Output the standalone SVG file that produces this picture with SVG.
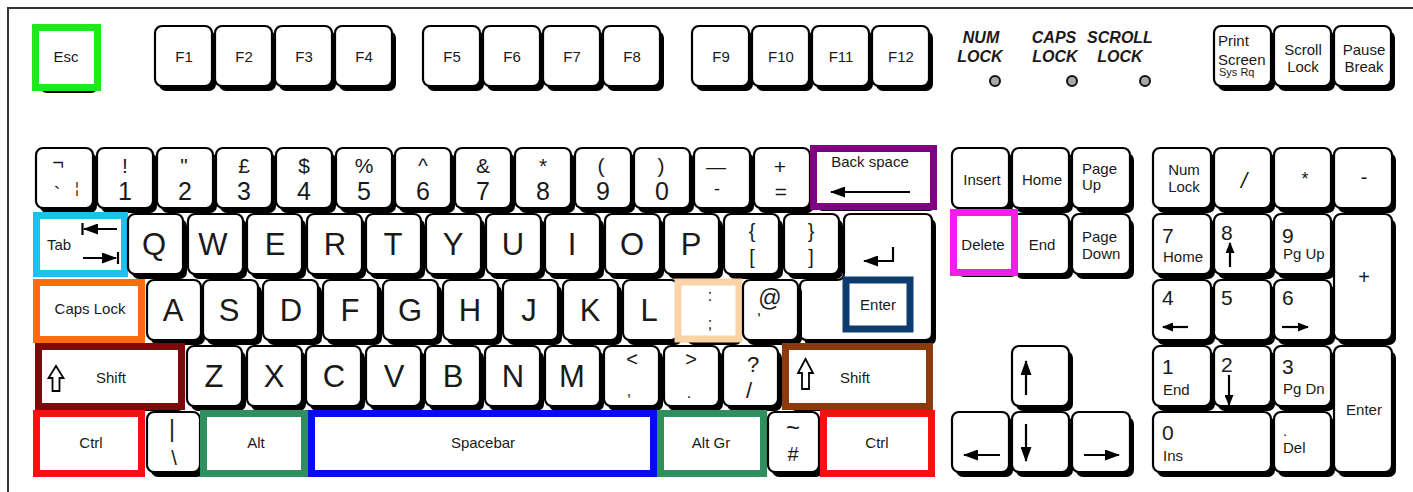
<svg xmlns="http://www.w3.org/2000/svg" width="1413" height="492" viewBox="0 0 1413 492">
<style>
.sh{fill:#000}
.kb{fill:#fff;stroke:#000;stroke-width:2.2}
.hl{fill:#fff;stroke-width:7}
text{font-family:"Liberation Sans",Arial,sans-serif;fill:#1a1a1a}
.c{text-anchor:middle}
.s{font-size:15px}
.xs{font-size:11px}
.dg{font-size:25px}
.sy{font-size:21px}
.lt{font-size:31px}
.np{font-size:21px}
.led{font-size:16px;font-weight:bold;font-style:italic;text-anchor:middle}
.ar{stroke:#000;stroke-width:2.2;fill:none}
.ld{fill:#a8a8a8;stroke:#111;stroke-width:2}
.sf{fill:#fff;stroke:#000;stroke-width:1.8}
</style>
<defs>
<marker id="ah" markerUnits="userSpaceOnUse" markerWidth="15" markerHeight="11" refX="14" refY="5.5" orient="auto"><path d="M0,0 L15,5.5 L0,11 z" fill="#000"/></marker>
<marker id="am" markerUnits="userSpaceOnUse" markerWidth="11" markerHeight="9" refX="10" refY="4.5" orient="auto"><path d="M0,0 L11,4.5 L0,9 z" fill="#000"/></marker>
</defs>
<g id="frame"><path d="M8,492 V8 H1413" fill="none" stroke="#333" stroke-width="2"/></g>

<!-- Function row -->
<g id="key-esc"><rect class="sh" x="40" y="33" width="58" height="60" rx="7"/><rect class="hl" x="35.5" y="27.5" width="62" height="60" stroke="#1ee81e"/><text class="c s" x="66" y="62">Esc</text></g>
<g id="key-f1"><rect class="sh" x="159" y="31" width="57" height="60" rx="7"/><rect class="kb" x="155" y="26" width="57" height="60" rx="7"/><text class="c s" x="184" y="62">F1</text></g>
<g id="key-f2"><rect class="sh" x="219" y="31" width="57" height="60" rx="7"/><rect class="kb" x="215" y="26" width="57" height="60" rx="7"/><text class="c s" x="244" y="62">F2</text></g>
<g id="key-f3"><rect class="sh" x="279" y="31" width="57" height="60" rx="7"/><rect class="kb" x="275" y="26" width="57" height="60" rx="7"/><text class="c s" x="304" y="62">F3</text></g>
<g id="key-f4"><rect class="sh" x="339" y="31" width="57" height="60" rx="7"/><rect class="kb" x="335" y="26" width="57" height="60" rx="7"/><text class="c s" x="364" y="62">F4</text></g>
<g id="key-f5"><rect class="sh" x="427" y="31" width="57" height="60" rx="7"/><rect class="kb" x="423" y="26" width="57" height="60" rx="7"/><text class="c s" x="452" y="62">F5</text></g>
<g id="key-f6"><rect class="sh" x="487" y="31" width="57" height="60" rx="7"/><rect class="kb" x="483" y="26" width="57" height="60" rx="7"/><text class="c s" x="512" y="62">F6</text></g>
<g id="key-f7"><rect class="sh" x="547" y="31" width="57" height="60" rx="7"/><rect class="kb" x="543" y="26" width="57" height="60" rx="7"/><text class="c s" x="572" y="62">F7</text></g>
<g id="key-f8"><rect class="sh" x="607" y="31" width="57" height="60" rx="7"/><rect class="kb" x="603" y="26" width="57" height="60" rx="7"/><text class="c s" x="632" y="62">F8</text></g>
<g id="key-f9"><rect class="sh" x="696" y="31" width="57" height="60" rx="7"/><rect class="kb" x="692" y="26" width="57" height="60" rx="7"/><text class="c s" x="721" y="62">F9</text></g>
<g id="key-f10"><rect class="sh" x="756" y="31" width="57" height="60" rx="7"/><rect class="kb" x="752" y="26" width="57" height="60" rx="7"/><text class="c s" x="781" y="62">F10</text></g>
<g id="key-f11"><rect class="sh" x="816" y="31" width="57" height="60" rx="7"/><rect class="kb" x="812" y="26" width="57" height="60" rx="7"/><text class="c s" x="841" y="62">F11</text></g>
<g id="key-f12"><rect class="sh" x="876" y="31" width="57" height="60" rx="7"/><rect class="kb" x="872" y="26" width="57" height="60" rx="7"/><text class="c s" x="901" y="62">F12</text></g>

<!-- Indicator lights -->
<g id="led-num"><text class="led" x="981" y="43">NUM</text><text class="led" x="980" y="62">LOCK</text><circle class="ld" cx="995" cy="81" r="5"/></g>
<g id="led-caps"><text class="led" x="1054" y="43">CAPS</text><text class="led" x="1055" y="62">LOCK</text><circle class="ld" cx="1072" cy="81" r="5"/></g>
<g id="led-scroll"><text class="led" x="1120" y="43">SCROLL</text><text class="led" x="1120" y="62">LOCK</text><circle class="ld" cx="1145" cy="81" r="5"/></g>

<g id="key-prtsc"><rect class="sh" x="1218" y="31" width="57" height="60" rx="7"/><rect class="kb" x="1214" y="26" width="57" height="60" rx="7"/><text class="s" x="1218" y="46">Print</text><text class="s" x="1218" y="65">Screen</text><text class="xs" x="1219" y="76">Sys Rq</text></g>
<g id="key-scroll"><rect class="sh" x="1278" y="31" width="57" height="60" rx="7"/><rect class="kb" x="1274" y="26" width="57" height="60" rx="7"/><text class="c s" x="1303" y="55">Scroll</text><text class="c s" x="1303" y="72">Lock</text></g>
<g id="key-pause"><rect class="sh" x="1338" y="31" width="57" height="60" rx="7"/><rect class="kb" x="1334" y="26" width="57" height="60" rx="7"/><text class="c s" x="1364" y="55">Pause</text><text class="c s" x="1364" y="72">Break</text></g>

<!-- Number row -->
<g id="key-backtick"><rect class="sh" x="40" y="153" width="57" height="60" rx="7"/><rect class="kb" x="36" y="148" width="57" height="60" rx="7"/><text class="c" style="font-size:20px" x="58" y="169">¬</text><text class="c" style="font-size:20px" x="57" y="201">`</text><text class="c" style="font-size:15px" x="77" y="193">¦</text></g>
<g id="key-1"><rect class="sh" x="101" y="153" width="56" height="60" rx="7"/><rect class="kb" x="97" y="148" width="56" height="60" rx="7"/><text class="c sy" x="125" y="173">!</text><text class="c dg" x="125" y="200">1</text></g>
<g id="key-2"><rect class="sh" x="161" y="153" width="56" height="60" rx="7"/><rect class="kb" x="157" y="148" width="56" height="60" rx="7"/><text class="c sy" x="184" y="173">"</text><text class="c dg" x="185" y="200">2</text></g>
<g id="key-3"><rect class="sh" x="220" y="153" width="56" height="60" rx="7"/><rect class="kb" x="216" y="148" width="56" height="60" rx="7"/><text class="c sy" x="244" y="173">£</text><text class="c dg" x="244" y="200">3</text></g>
<g id="key-4"><rect class="sh" x="280" y="153" width="56" height="60" rx="7"/><rect class="kb" x="276" y="148" width="56" height="60" rx="7"/><text class="c sy" x="304" y="173">$</text><text class="c dg" x="304" y="200">4</text></g>
<g id="key-5"><rect class="sh" x="340" y="153" width="56" height="60" rx="7"/><rect class="kb" x="336" y="148" width="56" height="60" rx="7"/><text class="c sy" x="364" y="173">%</text><text class="c dg" x="364" y="200">5</text></g>
<g id="key-6"><rect class="sh" x="399" y="153" width="56" height="60" rx="7"/><rect class="kb" x="395" y="148" width="56" height="60" rx="7"/><text class="c sy" x="423" y="173">^</text><text class="c dg" x="423" y="200">6</text></g>
<g id="key-7"><rect class="sh" x="459" y="153" width="56" height="60" rx="7"/><rect class="kb" x="455" y="148" width="56" height="60" rx="7"/><text class="c sy" x="483" y="173">&amp;</text><text class="c dg" x="483" y="200">7</text></g>
<g id="key-8"><rect class="sh" x="519" y="153" width="56" height="60" rx="7"/><rect class="kb" x="515" y="148" width="56" height="60" rx="7"/><text class="c sy" x="543" y="173">*</text><text class="c dg" x="543" y="200">8</text></g>
<g id="key-9"><rect class="sh" x="579" y="153" width="56" height="60" rx="7"/><rect class="kb" x="575" y="148" width="56" height="60" rx="7"/><text class="c sy" x="601" y="173">(</text><text class="c dg" x="603" y="200">9</text></g>
<g id="key-0"><rect class="sh" x="638" y="153" width="56" height="60" rx="7"/><rect class="kb" x="634" y="148" width="56" height="60" rx="7"/><text class="c sy" x="661" y="173">)</text><text class="c dg" x="662" y="200">0</text></g>
<g id="key-minus"><rect class="sh" x="698" y="153" width="56" height="60" rx="7"/><rect class="kb" x="694" y="148" width="56" height="60" rx="7"/><text class="c" style="font-size:20px" x="716" y="174">—</text><text class="c" style="font-size:18px" x="717" y="195">-</text></g>
<g id="key-equals"><rect class="sh" x="758" y="153" width="56" height="60" rx="7"/><rect class="kb" x="754" y="148" width="56" height="60" rx="7"/><text class="c sy" x="780" y="174">+</text><text class="c sy" x="781" y="199">=</text></g>
<g id="key-backspace"><rect class="sh" x="816" y="153" width="120" height="58" rx="7"/><rect class="hl" x="813.5" y="148.5" width="120" height="58" stroke="#800080"/><text class="c s" x="870" y="167">Back space</text><line class="ar" x1="910" y1="192" x2="831" y2="192" marker-end="url(#ah)"/></g>

<!-- QWERTY row -->
<g id="key-tab"><rect class="sh" x="40" y="219" width="88" height="58" rx="7"/><rect class="hl" x="36.5" y="215.5" width="88" height="58" stroke="#20bff0"/><text class="s" x="47" y="250">Tab</text><line class="ar" x1="117" y1="229" x2="84" y2="229" marker-end="url(#ah)"/><line class="ar" x1="82.5" y1="223" x2="82.5" y2="235"/><line class="ar" x1="83" y1="258" x2="116" y2="258" marker-end="url(#ah)"/><line class="ar" x1="118" y1="252" x2="118" y2="264"/></g>
<g id="key-q"><rect class="sh" x="132" y="219" width="55" height="60" rx="7"/><rect class="kb" x="128" y="214" width="55" height="60" rx="7"/><text class="c lt" x="154" y="255">Q</text></g>
<g id="key-w"><rect class="sh" x="192" y="219" width="55" height="60" rx="7"/><rect class="kb" x="188" y="214" width="55" height="60" rx="7"/><text class="c lt" x="213" y="255">W</text></g>
<g id="key-e"><rect class="sh" x="251" y="219" width="55" height="60" rx="7"/><rect class="kb" x="247" y="214" width="55" height="60" rx="7"/><text class="c lt" x="275" y="255">E</text></g>
<g id="key-r"><rect class="sh" x="311" y="219" width="55" height="60" rx="7"/><rect class="kb" x="307" y="214" width="55" height="60" rx="7"/><text class="c lt" x="335" y="255">R</text></g>
<g id="key-t"><rect class="sh" x="370" y="219" width="55" height="60" rx="7"/><rect class="kb" x="366" y="214" width="55" height="60" rx="7"/><text class="c lt" x="393" y="255">T</text></g>
<g id="key-y"><rect class="sh" x="430" y="219" width="55" height="60" rx="7"/><rect class="kb" x="426" y="214" width="55" height="60" rx="7"/><text class="c lt" x="453" y="255">Y</text></g>
<g id="key-u"><rect class="sh" x="490" y="219" width="55" height="60" rx="7"/><rect class="kb" x="486" y="214" width="55" height="60" rx="7"/><text class="c lt" x="513" y="255">U</text></g>
<g id="key-i"><rect class="sh" x="549" y="219" width="55" height="60" rx="7"/><rect class="kb" x="545" y="214" width="55" height="60" rx="7"/><text class="c lt" x="572" y="255">I</text></g>
<g id="key-o"><rect class="sh" x="609" y="219" width="55" height="60" rx="7"/><rect class="kb" x="605" y="214" width="55" height="60" rx="7"/><text class="c lt" x="632" y="255">O</text></g>
<g id="key-p"><rect class="sh" x="668" y="219" width="55" height="60" rx="7"/><rect class="kb" x="664" y="214" width="55" height="60" rx="7"/><text class="c lt" x="691" y="255">P</text></g>
<g id="key-lbracket"><rect class="sh" x="728" y="219" width="55" height="60" rx="7"/><rect class="kb" x="724" y="214" width="55" height="60" rx="7"/><text class="c" style="font-size:20px" x="752" y="238">{</text><text class="c" style="font-size:20px" x="752" y="264">[</text></g>
<g id="key-rbracket"><rect class="sh" x="788" y="219" width="55" height="60" rx="7"/><rect class="kb" x="784" y="214" width="55" height="60" rx="7"/><text class="c" style="font-size:20px" x="811" y="238">}</text><text class="c" style="font-size:20px" x="811" y="264">]</text></g>
<g id="key-enter"><path class="sh" d="M855,219 H929 Q936,219 936,226 V338 Q936,345 929,345 H811 Q804,345 804,338 V292 Q804,285 811,285 H841 Q848,285 848,278 V226 Q848,219 855,219 Z"/><path class="kb" d="M851,214 H925 Q932,214 932,221 V333 Q932,340 925,340 H807 Q800,340 800,333 V287 Q800,280 807,280 H837 Q844,280 844,273 V221 Q844,214 851,214 Z"/><path class="ar" d="M893,247 V261 H864" marker-end="url(#ah)"/><rect class="hl" x="846" y="280" width="64" height="49" stroke="#0f3c6e" stroke-width="6"/><text class="c s" x="878" y="310">Enter</text></g>

<!-- Home row -->
<g id="key-caps"><rect class="sh" x="40" y="286" width="105" height="57" rx="7"/><rect class="hl" x="36.5" y="282.5" width="105" height="57" stroke="#fb6b10"/><text class="c s" x="90" y="314">Caps Lock</text></g>
<g id="key-a"><rect class="sh" x="151" y="285" width="54" height="60" rx="7"/><rect class="kb" x="147" y="280" width="54" height="60" rx="7"/><text class="c lt" x="173" y="321">A</text></g>
<g id="key-s"><rect class="sh" x="207" y="285" width="55" height="60" rx="7"/><rect class="kb" x="203" y="280" width="55" height="60" rx="7"/><text class="c lt" x="229" y="321">S</text></g>
<g id="key-d"><rect class="sh" x="267" y="285" width="55" height="60" rx="7"/><rect class="kb" x="263" y="280" width="55" height="60" rx="7"/><text class="c lt" x="291" y="321">D</text></g>
<g id="key-f"><rect class="sh" x="327" y="285" width="55" height="60" rx="7"/><rect class="kb" x="323" y="280" width="55" height="60" rx="7"/><text class="c lt" x="350" y="321">F</text></g>
<g id="key-g"><rect class="sh" x="387" y="285" width="55" height="60" rx="7"/><rect class="kb" x="383" y="280" width="55" height="60" rx="7"/><text class="c lt" x="410" y="321">G</text></g>
<g id="key-h"><rect class="sh" x="447" y="285" width="55" height="60" rx="7"/><rect class="kb" x="443" y="280" width="55" height="60" rx="7"/><text class="c lt" x="470" y="321">H</text></g>
<g id="key-j"><rect class="sh" x="507" y="285" width="55" height="60" rx="7"/><rect class="kb" x="503" y="280" width="55" height="60" rx="7"/><text class="c lt" x="529" y="321">J</text></g>
<g id="key-k"><rect class="sh" x="567" y="285" width="55" height="60" rx="7"/><rect class="kb" x="563" y="280" width="55" height="60" rx="7"/><text class="c lt" x="590" y="321">K</text></g>
<g id="key-l"><rect class="sh" x="627" y="285" width="55" height="60" rx="7"/><rect class="kb" x="623" y="280" width="55" height="60" rx="7"/><text class="c lt" x="649" y="321">L</text></g>
<g id="key-semicolon"><rect class="sh" x="687" y="285" width="55" height="60" rx="7"/><rect class="hl" x="678" y="282" width="61" height="57" stroke="#fbd3a6" stroke-width="6"/><text class="c" style="font-size:16px" x="710" y="301">:</text><text class="c" style="font-size:16px" x="710" y="329">;</text></g>
<g id="key-at"><rect class="sh" x="747" y="285" width="55" height="60" rx="7"/><rect class="kb" x="743" y="280" width="55" height="60" rx="7"/><text class="c" style="font-size:23px" x="770" y="306">@</text><text class="c" style="font-size:16px" x="759" y="325">'</text></g>

<!-- Bottom letter row -->
<g id="key-lshift"><rect class="sh" x="42" y="351" width="143" height="60" rx="7"/><rect class="hl" x="38.5" y="346.5" width="143" height="60" stroke="#7d0a0a" stroke-width="7.5"/><path class="sf" d="M56,366 L63.5,378 H59.5 V391 H52.5 V378 H48.5 Z"/><text class="c s" x="111" y="383">Shift</text></g>
<g id="key-z"><rect class="sh" x="191" y="351" width="55" height="60" rx="7"/><rect class="kb" x="187" y="346" width="55" height="60" rx="7"/><text class="c lt" x="214" y="387">Z</text></g>
<g id="key-x"><rect class="sh" x="251" y="351" width="55" height="60" rx="7"/><rect class="kb" x="247" y="346" width="55" height="60" rx="7"/><text class="c lt" x="274" y="387">X</text></g>
<g id="key-c"><rect class="sh" x="310" y="351" width="55" height="60" rx="7"/><rect class="kb" x="306" y="346" width="55" height="60" rx="7"/><text class="c lt" x="334" y="387">C</text></g>
<g id="key-v"><rect class="sh" x="370" y="351" width="55" height="60" rx="7"/><rect class="kb" x="366" y="346" width="55" height="60" rx="7"/><text class="c lt" x="394" y="387">V</text></g>
<g id="key-b"><rect class="sh" x="429" y="351" width="55" height="60" rx="7"/><rect class="kb" x="425" y="346" width="55" height="60" rx="7"/><text class="c lt" x="453" y="387">B</text></g>
<g id="key-n"><rect class="sh" x="489" y="351" width="55" height="60" rx="7"/><rect class="kb" x="485" y="346" width="55" height="60" rx="7"/><text class="c lt" x="513" y="387">N</text></g>
<g id="key-m"><rect class="sh" x="549" y="351" width="55" height="60" rx="7"/><rect class="kb" x="545" y="346" width="55" height="60" rx="7"/><text class="c lt" x="572" y="387">M</text></g>
<g id="key-comma"><rect class="sh" x="608" y="351" width="55" height="60" rx="7"/><rect class="kb" x="604" y="346" width="55" height="60" rx="7"/><text class="c" style="font-size:20px" x="632" y="366">&lt;</text><text class="c" style="font-size:16px" x="629" y="396">,</text></g>
<g id="key-period"><rect class="sh" x="668" y="351" width="55" height="60" rx="7"/><rect class="kb" x="664" y="346" width="55" height="60" rx="7"/><text class="c" style="font-size:20px" x="691" y="366">&gt;</text><text class="c" style="font-size:16px" x="689" y="398">.</text></g>
<g id="key-slash"><rect class="sh" x="727" y="351" width="55" height="60" rx="7"/><rect class="kb" x="723" y="346" width="55" height="60" rx="7"/><text class="c" style="font-size:22px" x="753" y="372">?</text><text class="c" style="font-size:22px" x="749" y="398">/</text></g>
<g id="key-rshift"><rect class="sh" x="789" y="351" width="144" height="60" rx="7"/><rect class="hl" x="785.5" y="346.5" width="144" height="60" stroke="#8b3a0e"/><path class="sf" d="M805.5,359 L813,373 H809 V389 H802 V373 H798 Z"/><text class="c s" x="855" y="383">Shift</text></g>

<!-- Space row -->
<g id="key-lctrl"><rect class="sh" x="40" y="417" width="105" height="60" rx="7"/><rect class="hl" x="36.5" y="413.5" width="105" height="60" stroke="#f81010"/><text class="c s" x="91" y="448">Ctrl</text></g>
<g id="key-backslash"><rect class="sh" x="151" y="417" width="53" height="60" rx="7"/><rect class="kb" x="147" y="412" width="53" height="60" rx="7"/><text class="c" style="font-size:23px" x="172" y="437">|</text><text class="c" style="font-size:20px" x="174" y="465">\</text></g>
<g id="key-alt"><rect class="sh" x="207" y="417" width="101" height="60" rx="7"/><rect class="hl" x="203.5" y="413.5" width="101" height="60" stroke="#2f8f5f"/><text class="c s" x="256" y="448">Alt</text></g>
<g id="key-space"><rect class="sh" x="315" y="417" width="342" height="60" rx="7"/><rect class="hl" x="311.5" y="413.5" width="342" height="60" stroke="#0a0aee"/><text class="c s" x="483" y="448">Spacebar</text></g>
<g id="key-altgr"><rect class="sh" x="664" y="417" width="103" height="60" rx="7"/><rect class="hl" x="660.5" y="413.5" width="103" height="60" stroke="#2f8f5f"/><text class="c s" x="711" y="448">Alt Gr</text></g>
<g id="key-hash"><rect class="sh" x="772" y="417" width="51" height="60" rx="7"/><rect class="kb" x="768" y="412" width="51" height="60" rx="7"/><text class="c" style="font-size:24px" x="793" y="436">~</text><text class="c" style="font-size:20px" x="793" y="461">#</text></g>
<g id="key-rctrl"><rect class="sh" x="827" y="417" width="108" height="60" rx="7"/><rect class="hl" x="823.5" y="413.5" width="108" height="60" stroke="#f81010"/><text class="c s" x="877" y="448">Ctrl</text></g>

<!-- Navigation cluster -->
<g id="key-insert"><rect class="sh" x="956" y="153" width="57" height="60" rx="7"/><rect class="kb" x="952" y="148" width="57" height="60" rx="7"/><text class="c s" x="982" y="185">Insert</text></g>
<g id="key-home"><rect class="sh" x="1016" y="153" width="57" height="60" rx="7"/><rect class="kb" x="1012" y="148" width="57" height="60" rx="7"/><text class="c s" x="1042" y="185">Home</text></g>
<g id="key-pgup"><rect class="sh" x="1076" y="153" width="58" height="60" rx="7"/><rect class="kb" x="1072" y="148" width="58" height="60" rx="7"/><text class="s" x="1082" y="174">Page</text><text class="s" x="1082" y="190">Up</text></g>
<g id="key-end"><rect class="sh" x="1016" y="219" width="57" height="60" rx="7"/><rect class="kb" x="1012" y="214" width="57" height="60" rx="7"/><text class="c s" x="1042" y="250">End</text></g>
<g id="key-pgdn"><rect class="sh" x="1076" y="219" width="58" height="60" rx="7"/><rect class="kb" x="1072" y="214" width="58" height="60" rx="7"/><text class="s" x="1082" y="242">Page</text><text class="s" x="1082" y="259">Down</text></g>
<g id="key-delete"><rect class="sh" x="957" y="217" width="61" height="60" rx="7"/><rect class="hl" x="953.5" y="212.5" width="61" height="60" stroke="#f01ee8"/><text class="c s" x="983" y="250">Delete</text></g>

<g id="key-up"><rect class="sh" x="1016" y="351" width="57" height="60" rx="7"/><rect class="kb" x="1012" y="346" width="57" height="60" rx="7"/><line class="ar" x1="1026" y1="395" x2="1026" y2="361" marker-end="url(#ah)"/></g>
<g id="key-left"><rect class="sh" x="956" y="417" width="57" height="60" rx="7"/><rect class="kb" x="952" y="412" width="57" height="60" rx="7"/><line class="ar" x1="1000" y1="455" x2="964" y2="455" marker-end="url(#ah)"/></g>
<g id="key-down"><rect class="sh" x="1016" y="417" width="57" height="60" rx="7"/><rect class="kb" x="1012" y="412" width="57" height="60" rx="7"/><line class="ar" x1="1026" y1="424" x2="1026" y2="461" marker-end="url(#ah)"/></g>
<g id="key-right"><rect class="sh" x="1076" y="417" width="58" height="60" rx="7"/><rect class="kb" x="1072" y="412" width="58" height="60" rx="7"/><line class="ar" x1="1084" y1="455" x2="1119" y2="455" marker-end="url(#ah)"/></g>

<!-- Numeric keypad -->
<g id="key-numlock"><rect class="sh" x="1157" y="153" width="58" height="60" rx="7"/><rect class="kb" x="1153" y="148" width="58" height="60" rx="7"/><text class="c s" x="1184" y="175">Num</text><text class="c s" x="1184" y="192">Lock</text></g>
<g id="key-np-div"><rect class="sh" x="1218" y="153" width="57" height="60" rx="7"/><rect class="kb" x="1214" y="148" width="57" height="60" rx="7"/><text class="c" style="font-size:22px;font-style:italic" x="1244" y="188">/</text></g>
<g id="key-np-mul"><rect class="sh" x="1278" y="153" width="57" height="60" rx="7"/><rect class="kb" x="1274" y="148" width="57" height="60" rx="7"/><text class="c" style="font-size:18px" x="1305" y="185">*</text></g>
<g id="key-np-sub"><rect class="sh" x="1338" y="153" width="58" height="60" rx="7"/><rect class="kb" x="1334" y="148" width="58" height="60" rx="7"/><text class="c" style="font-size:20px" x="1364" y="184">-</text></g>
<g id="key-np7"><rect class="sh" x="1157" y="219" width="58" height="60" rx="7"/><rect class="kb" x="1153" y="214" width="58" height="60" rx="7"/><text class="np" x="1162" y="243">7</text><text class="s" x="1163" y="262">Home</text></g>
<g id="key-np8"><rect class="sh" x="1218" y="219" width="57" height="60" rx="7"/><rect class="kb" x="1214" y="214" width="57" height="60" rx="7"/><text class="np" x="1221" y="240">8</text><line class="ar" x1="1230" y1="267" x2="1230" y2="243" marker-end="url(#am)"/></g>
<g id="key-np9"><rect class="sh" x="1278" y="219" width="57" height="60" rx="7"/><rect class="kb" x="1274" y="214" width="57" height="60" rx="7"/><text class="np" x="1282" y="243">9</text><text class="s" x="1283" y="259">Pg Up</text></g>
<g id="key-np-add"><rect class="sh" x="1338" y="219" width="58" height="126" rx="7"/><rect class="kb" x="1334" y="214" width="58" height="126" rx="7"/><text class="c" style="font-size:20px" x="1364" y="284">+</text></g>
<g id="key-np4"><rect class="sh" x="1157" y="285" width="58" height="60" rx="7"/><rect class="kb" x="1153" y="280" width="58" height="60" rx="7"/><text class="np" x="1162" y="305">4</text><line class="ar" x1="1188" y1="327" x2="1163" y2="327" marker-end="url(#am)"/></g>
<g id="key-np5"><rect class="sh" x="1218" y="285" width="57" height="60" rx="7"/><rect class="kb" x="1214" y="280" width="57" height="60" rx="7"/><text class="np" x="1221" y="305">5</text></g>
<g id="key-np6"><rect class="sh" x="1278" y="285" width="57" height="60" rx="7"/><rect class="kb" x="1274" y="280" width="57" height="60" rx="7"/><text class="np" x="1282" y="305">6</text><line class="ar" x1="1282" y1="327" x2="1308" y2="327" marker-end="url(#am)"/></g>
<g id="key-np1"><rect class="sh" x="1157" y="351" width="58" height="60" rx="7"/><rect class="kb" x="1153" y="346" width="58" height="60" rx="7"/><text class="np" x="1162" y="374">1</text><text class="s" x="1163" y="395">End</text></g>
<g id="key-np2"><rect class="sh" x="1218" y="351" width="57" height="60" rx="7"/><rect class="kb" x="1214" y="346" width="57" height="60" rx="7"/><text class="np" x="1221" y="372">2</text><line class="ar" x1="1229" y1="375" x2="1229" y2="405" marker-end="url(#am)"/></g>
<g id="key-np3"><rect class="sh" x="1278" y="351" width="57" height="60" rx="7"/><rect class="kb" x="1274" y="346" width="57" height="60" rx="7"/><text class="np" x="1282" y="374">3</text><text class="s" x="1283" y="394">Pg Dn</text></g>
<g id="key-np-enter"><rect class="sh" x="1338" y="351" width="58" height="126" rx="7"/><rect class="kb" x="1334" y="346" width="58" height="126" rx="7"/><text class="c s" x="1364" y="415">Enter</text></g>
<g id="key-np0"><rect class="sh" x="1157" y="417" width="118" height="60" rx="7"/><rect class="kb" x="1153" y="412" width="118" height="60" rx="7"/><text class="np" x="1162" y="440">0</text><text class="s" x="1163" y="461">Ins</text></g>
<g id="key-np-dec"><rect class="sh" x="1278" y="417" width="57" height="60" rx="7"/><rect class="kb" x="1274" y="412" width="57" height="60" rx="7"/><text class="s" x="1283" y="436">.</text><text class="s" x="1283" y="453">Del</text></g>
</svg>
